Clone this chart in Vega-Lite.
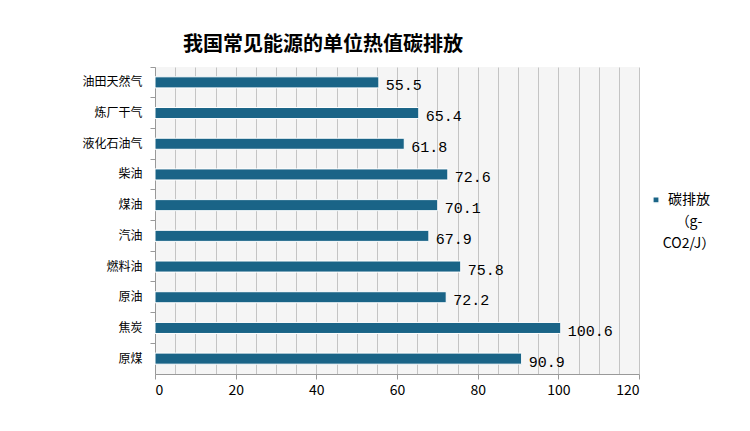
{
  "$schema": "https://vega.github.io/schema/vega-lite/v6.json",
  "autosize": "none",
  "width": 484,
  "height": 307,
  "padding": {"left": 155, "top": 67, "right": 111, "bottom": 57},
  "background": "white",
  "title": {
    "text": "我国常见能源的单位热值碳排放",
    "anchor": "start",
    "frame": "group",
    "dx": 28,
    "offset": 12,
    "font": "Noto Sans CJK SC",
    "fontSize": 20,
    "fontWeight": "bold",
    "color": "#000000"
  },
  "data": {
    "values": [
      {"能源": "油田天然气", "碳排放": 55.5, "系列": "碳排放（g-CO2/J）"},
      {"能源": "炼厂干气", "碳排放": 65.4, "系列": "碳排放（g-CO2/J）"},
      {"能源": "液化石油气", "碳排放": 61.8, "系列": "碳排放（g-CO2/J）"},
      {"能源": "柴油", "碳排放": 72.6, "系列": "碳排放（g-CO2/J）"},
      {"能源": "煤油", "碳排放": 70.1, "系列": "碳排放（g-CO2/J）"},
      {"能源": "汽油", "碳排放": 67.9, "系列": "碳排放（g-CO2/J）"},
      {"能源": "燃料油", "碳排放": 75.8, "系列": "碳排放（g-CO2/J）"},
      {"能源": "原油", "碳排放": 72.2, "系列": "碳排放（g-CO2/J）"},
      {"能源": "焦炭", "碳排放": 100.6, "系列": "碳排放（g-CO2/J）"},
      {"能源": "原煤", "碳排放": 90.9, "系列": "碳排放（g-CO2/J）"}
    ]
  },
  "encoding": {
    "y": {
      "field": "能源",
      "type": "nominal",
      "sort": null,
      "scale": {"paddingInner": 0, "paddingOuter": 0},
      "axis": {
        "title": null,
        "bandPosition": 0,
        "labelFont": "Noto Sans CJK SC",
        "labelFontSize": 12,
        "labelColor": "#000000",
        "labelPadding": 8,
        "tickSize": 5,
        "tickColor": "#999999",
        "domainColor": "#999999",
        "grid": false
      }
    },
    "x": {
      "field": "碳排放",
      "type": "quantitative",
      "scale": {"domain": [0, 120], "nice": false},
      "axis": {
        "title": null,
        "values": [0,5,10,15,20,25,30,35,40,45,50,55,60,65,70,75,80,85,90,95,100,105,110,115,120],
        "labelExpr": "datum.value % 20 === 0 ? datum.label : ''",
        "labelFont": "Noto Sans CJK SC",
        "labelFontSize": 14,
        "labelColor": "#000000",
        "labelPadding": 4,
        "tickSize": 5,
        "tickColor": {"condition": {"test": "datum.value % 20 === 0", "value": "#999999"}, "value": "transparent"},
        "domainColor": "#999999",
        "grid": true,
        "gridColor": "#c4c4c4",
        "gridWidth": 1
      }
    }
  },
  "layer": [
    {
      "mark": {"type": "bar", "height": {"band": 0.36}, "stroke": "white", "strokeWidth": 1},
      "encoding": {
        "color": {
          "field": "系列",
          "type": "nominal",
          "scale": {"range": ["#1a6487"]},
          "legend": {
            "title": null,
            "orient": "none",
            "legendX": 494,
            "legendY": 119,
            "symbolType": "M-1,1.2H1V3.2H-1Z",
            "symbolSize": 40,
            "labelFont": "Noto Sans CJK SC",
            "labelFontSize": 14,
            "labelColor": "#000000",
            "labelBaseline": "top",
            "labelAlign": "center",
            "labelOffset": 26,
            "labelExpr": "['碳排放', '（g-', 'CO2/J）']",
            "labelLimit": 200
          }
        }
      }
    },
    {
      "mark": {"type": "text", "align": "left", "baseline": "middle", "dx": 7, "dy": 3, "font": "Liberation Mono", "fontSize": 15, "color": "#000000"},
      "encoding": {
        "text": {"field": "碳排放", "type": "quantitative", "format": ".1f"}
      }
    }
  ],
  "config": {
    "view": {"fill": "#f5f5f5", "stroke": null},
    "style": {"guide-label": {"lineHeight": 22}}
  }
}
